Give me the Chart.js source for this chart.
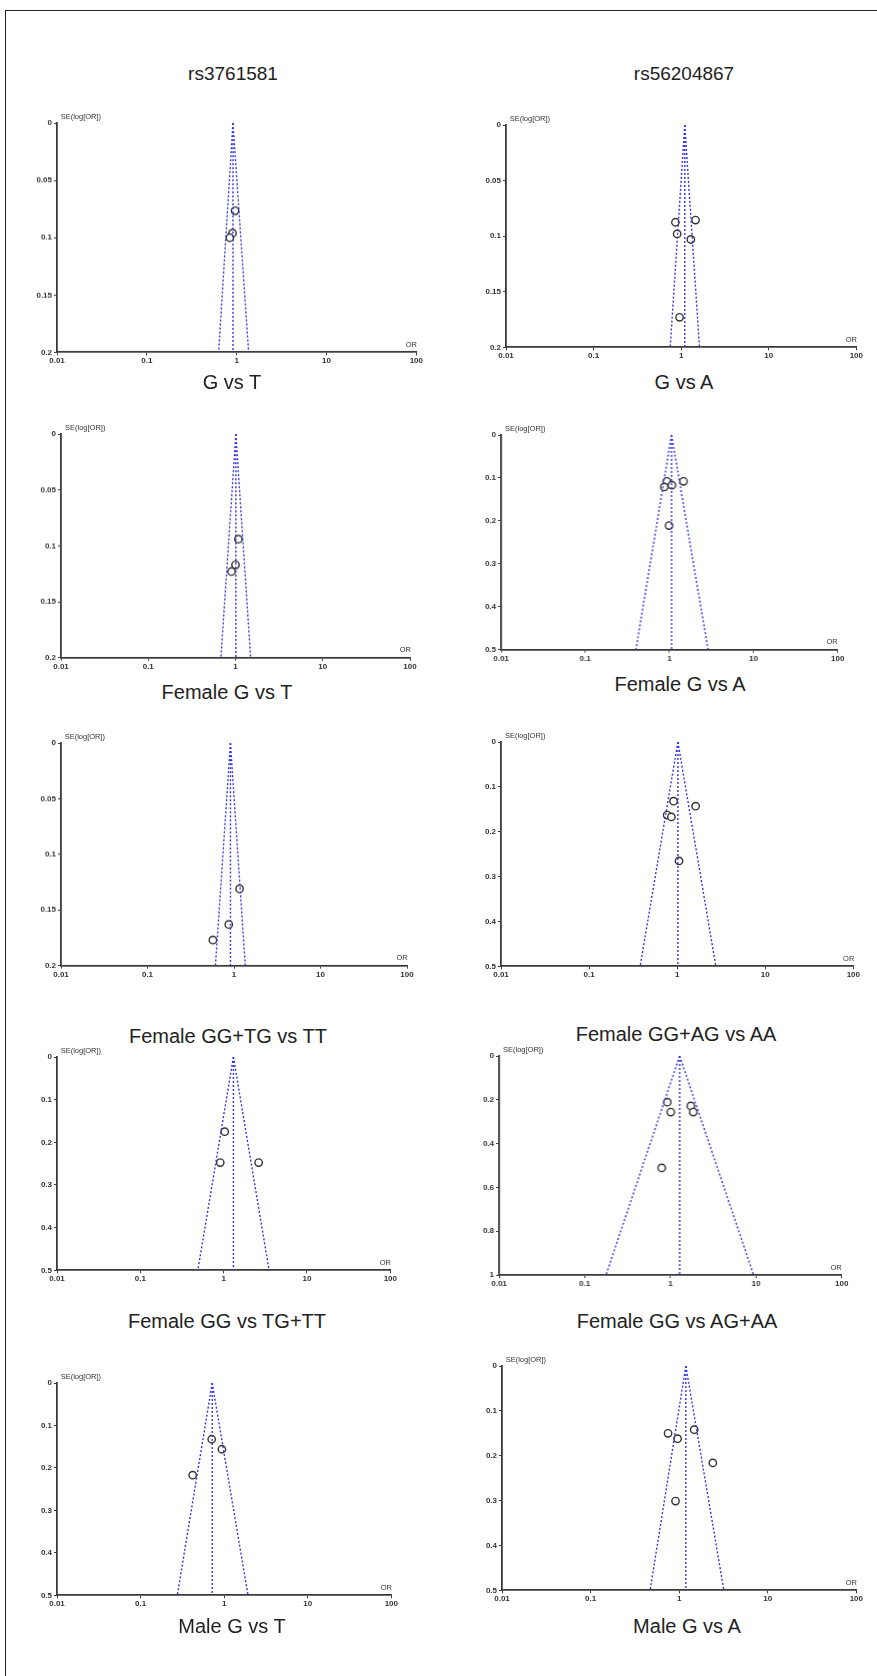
<!DOCTYPE html>
<html>
<head>
<meta charset="utf-8">
<script src="https://cdn.jsdelivr.net/npm/chart.js@4.4.0/dist/chart.umd.min.js"></script>
<style>
  html, body { margin: 0; padding: 0; background: #fff; }
  body { width: 877px; height: 1676px; position: relative; overflow: hidden;
         font-family: "Liberation Sans", Arial, sans-serif; color: #222; }
  .frame { position: absolute; left: 5px; top: 10px; width: 900px; height: 1700px;
           border-left: 1.5px solid #222; border-top: 1.5px solid #222; }
  .lbl { position: absolute; transform: translate(-50%, -50%); white-space: nowrap; line-height: 1; }
  .snp { font-size: 19px; }
  .ptitle { font-size: 20px; }
  .axlbl { position: absolute; font-size: 7.5px; color: #333; line-height: 1; white-space: nowrap; }
  .box { position: absolute; }
</style>
</head>
<body>
<div class="frame"></div>
<script>
// Funnel plots, one per genetic model.

const snpTitles = ['rs3761581', 'rs56204867'];
const panelTitles = [
  'G vs T', 'G vs A',
  'Female G vs T', 'Female G vs A',
  'Female GG+TG vs TT', 'Female GG+AG vs AA',
  'Female GG vs TG+TT', 'Female GG vs AG+AA',
  'Male G vs T', 'Male G vs A'
];
const xTicks = [0.01, 0.1, 1, 10, 100];
const seMax = [0.2, 0.2, 0.2, 0.5, 0.2, 0.5, 0.5, 1, 0.5, 0.5];
const seStep = [0.05, 0.05, 0.05, 0.1, 0.05, 0.1, 0.1, 0.2, 0.1, 0.1];

// pooled OR (funnel apex / centre line) and funnel limits at the bottom
const pooledOR = [0.91, 1.10, 1.01, 1.06, 0.91, 1.02, 1.31, 1.28, 0.72, 1.19];
const funnelLowOR = [0.63, 0.75, 0.68, 0.40, 0.61, 0.38, 0.49, 0.177, 0.275, 0.47];
const funnelHighOR = [1.36, 1.62, 1.49, 2.88, 1.35, 2.75, 3.51, 9.35, 1.93, 3.2];

// individual studies
const studyOR = [
  [0.96, 0.90, 0.84],
  [0.86, 1.46, 0.90, 1.29, 0.96],
  [1.08, 1.00, 0.90],
  [0.93, 1.47, 0.87, 1.07, 0.99],
  [1.16, 0.87, 0.57],
  [0.91, 1.62, 0.77, 0.86, 1.05],
  [1.03, 0.91, 2.63],
  [0.92, 1.01, 1.73, 1.85, 0.79],
  [0.71, 0.94, 0.42],
  [0.75, 0.96, 1.48, 2.40, 0.91]
];
const studySE = [
  [0.0765, 0.096, 0.100],
  [0.0875, 0.0855, 0.098, 0.103, 0.173],
  [0.094, 0.117, 0.123],
  [0.108, 0.108, 0.121, 0.117, 0.211],
  [0.131, 0.163, 0.177],
  [0.132, 0.143, 0.163, 0.167, 0.265],
  [0.175, 0.2475, 0.2475],
  [0.211, 0.256, 0.228, 0.256, 0.511],
  [0.1325, 0.156, 0.217],
  [0.150, 0.162, 0.142, 0.216, 0.301]
];

// page layout: plot area [left, top, right, bottom] and title centres
const panelBox = [
  [56.7, 123.3, 416, 351.7], [505.7, 125, 856, 347.3],
  [61, 434, 410, 656.7], [501, 434.7, 836.7, 649.3],
  [60.7, 743.3, 406.7, 965], [501, 741.7, 853.3, 966],
  [56.7, 1056.7, 390, 1270], [499, 1056, 840.7, 1275],
  [56.7, 1382.7, 391, 1595], [501.7, 1365.7, 856, 1590]
];
const titlePos = [
  [232, 382], [684, 382],
  [227, 692], [680, 684],
  [228, 1036], [676, 1034],
  [227, 1321], [677, 1321],
  [232, 1626], [687, 1626]
];
const snpPos = [[233, 73], [684, 73]];

const PAD_L = 50, PAD_T = 14, PAD_R = 14, PAD_B = 22;
const funnelColor = '#3535d6';
const axisColor = '#3a3a3a';
const tickFont = { family: 'Liberation Sans', size: 8, weight: 'bold' };

function addLabel(text, x, y, cls) {
  const d = document.createElement('div');
  d.className = 'lbl ' + cls;
  d.textContent = text;
  d.style.left = x + 'px';
  d.style.top = y + 'px';
  document.body.appendChild(d);
}

function addAxisText(text, x, y, alignRight) {
  const d = document.createElement('div');
  d.className = 'axlbl';
  d.textContent = text;
  d.style.top = y + 'px';
  if (alignRight) {
    d.style.right = (877 - x) + 'px';
  } else {
    d.style.left = x + 'px';
  }
  document.body.appendChild(d);
}

function lineDataset(points) {
  return {
    type: 'scatter',
    data: points,
    showLine: true,
    borderColor: funnelColor,
    borderWidth: 1.4,
    borderDash: [2, 2],
    pointRadius: 0,
    fill: false,
  };
}

function buildPanel(i) {
  const [l, t, r, b] = panelBox[i];
  const box = document.createElement('div');
  box.className = 'box';
  box.style.left = (l - PAD_L) + 'px';
  box.style.top = (t - PAD_T) + 'px';
  box.style.width = (r - l + PAD_L + PAD_R) + 'px';
  box.style.height = (b - t + PAD_T + PAD_B) + 'px';
  const canvas = document.createElement('canvas');
  box.appendChild(canvas);
  document.body.appendChild(box);

  const ymax = seMax[i];
  const studies = studyOR[i].map((v, k) => ({ x: v, y: studySE[i][k] }));

  new Chart(canvas.getContext('2d'), {
    type: 'scatter',
    data: {
      datasets: [
        lineDataset([{ x: pooledOR[i], y: 0 }, { x: funnelLowOR[i], y: ymax }]),
        lineDataset([{ x: pooledOR[i], y: 0 }, { x: funnelHighOR[i], y: ymax }]),
        lineDataset([{ x: pooledOR[i], y: 0 }, { x: pooledOR[i], y: ymax }]),
        {
          data: studies,
          pointStyle: 'circle',
          pointRadius: 3.7,
          borderColor: '#333',
          borderWidth: 1.4,
          backgroundColor: '#fff',
        },
      ],
    },
    options: {
      responsive: true,
      maintainAspectRatio: false,
      animation: false,
      devicePixelRatio: 1,
      layout: { padding: { left: 0, top: PAD_T, right: PAD_R, bottom: 0 } },
      plugins: {
        legend: { display: false },
        tooltip: { enabled: false },
      },
      scales: {
        x: {
          type: 'logarithmic',
          min: 0.01,
          max: 100,
          afterBuildTicks(scale) {
            scale.ticks = xTicks.map(v => ({ value: v }));
          },
          afterFit(scale) { scale.height = PAD_B; },
          ticks: {
            autoSkip: false,
            maxRotation: 0,
            padding: 1,
            color: '#333',
            font: tickFont,
            callback: (v) => String(v),
          },
          grid: { drawOnChartArea: false, drawTicks: true, tickLength: 3, color: axisColor },
          border: { display: true, color: axisColor, width: 1.8 },
        },
        y: {
          type: 'linear',
          reverse: true,
          min: 0,
          max: ymax,
          afterFit(scale) { scale.width = PAD_L; },
          ticks: {
            stepSize: seStep[i],
            padding: 2,
            color: '#333',
            font: tickFont,
            callback: (v) => String(Number(v.toFixed(2))),
          },
          grid: { drawOnChartArea: false, drawTicks: true, tickLength: 3, color: axisColor },
          border: { display: true, color: axisColor, width: 1.8 },
        },
      },
    },
  });

  addAxisText('SE(log[OR])', l + 4, t - 10, false);
  addAxisText('OR', r + 1, b - 11, true);
  addLabel(panelTitles[i], titlePos[i][0], titlePos[i][1], 'ptitle');
}

snpTitles.forEach((s, k) => addLabel(s, snpPos[k][0], snpPos[k][1], 'snp'));
for (let i = 0; i < panelTitles.length; i++) buildPanel(i);
</script>
</body>
</html>
